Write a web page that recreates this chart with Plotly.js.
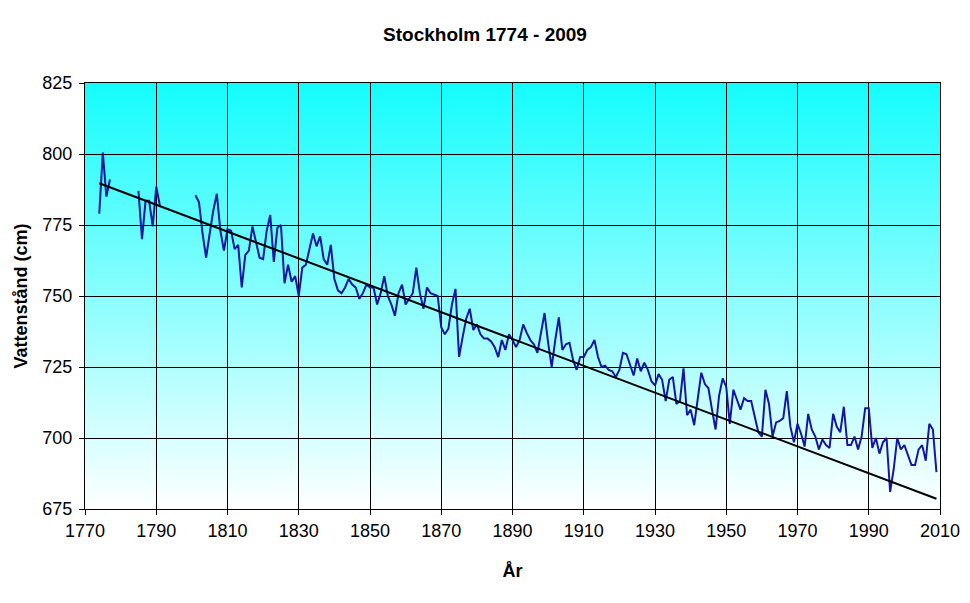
<!DOCTYPE html>
<html>
<head>
<meta charset="utf-8">
<script src="https://cdn.plot.ly/plotly-3.0.1.min.js"></script>
<style>
  html, body { margin: 0; padding: 0; background: #ffffff; }
  #chart { width: 970px; height: 603px; }
</style>
</head>
<body>
<div id="chart"></div>
<script>
// ---- Data ----
// Annual mean water level in Stockholm, cm; first value is year 1774, one value per year, null = no data
const firstYear = 1774;
const waterLevel = [
  /*1774-1779*/ 779, 800.5, 785, 791, null, null,
  /*1780-1789*/ null, null, null, null, null, 787, 770, 783.5, 783.5, 774.5,
  /*1790-1799*/ 788.5, 782, null, null, null, null, null, null, null, null,
  /*1800-1809*/ null, 785.5, 783, 772, 763.5, 772, 780, 786, 773, 766,
  /*1810-1819*/ 773.5, 773, 766.5, 768, 753, 764.5, 766, 774.5, 769, 763.5,
  /*1820-1829*/ 763, 773, 778.5, 762, 774, 775, 754.5, 761, 755, 757,
  /*1830-1839*/ 750, 760, 761, 766, 772, 767.5, 771, 763, 761, 768,
  /*1840-1849*/ 756, 752, 751, 753, 756, 754, 753, 749, 751, 754,
  /*1850-1859*/ 753, 753, 747, 751, 757, 750, 747, 743, 751, 754,
  /*1860-1869*/ 747, 749, 751, 760, 751, 745.5, 753, 751, 750.5, 750,
  /*1870-1879*/ 739, 736.5, 738.5, 747, 752.5, 728.5, 735.5, 742, 745.5, 738,
  /*1880-1889*/ 740, 736.5, 735, 735, 734, 732, 728.5, 734.5, 731, 736.5,
  /*1890-1899*/ 734.5, 732, 734.5, 740, 737, 734.5, 733, 730, 737, 744,
  /*1900-1909*/ 733.5, 725, 734.5, 742.5, 731, 733, 733.5, 727.5, 724, 728.5,
  /*1910-1919*/ 728.5, 731, 732, 734.5, 728.5, 725, 725.5, 724, 723.5, 721.5,
  /*1920-1929*/ 724, 730, 729.5, 725.5, 722, 728, 723.5, 726.5, 724, 720,
  /*1930-1939*/ 718.5, 722.5, 720.5, 713, 720.5, 721.5, 712, 713, 724.5, 708,
  /*1940-1949*/ 710, 704.5, 713.5, 723, 719, 717.5, 710, 703, 715, 721,
  /*1950-1959*/ 718, 705, 717, 713.5, 710, 714, 713, 713, 707, 702,
  /*1960-1969*/ 700.5, 717, 712, 700.5, 705.5, 706, 707, 716.5, 704, 698.5,
  /*1970-1979*/ 705, 701.5, 697, 708.5, 703, 700.5, 696, 699.5, 697.5, 696.5,
  /*1980-1989*/ 708.5, 704, 702, 711, 697.5, 697.5, 700.5, 696, 700.5, 710.5,
  /*1990-1999*/ 710.5, 696.5, 700, 694.5, 698.5, 700, 681, 689, 700, 696,
  /*2000-2009*/ 697.5, 694, 690.5, 690.5, 696, 697.5, 692, 705, 703, 688
];

// Linear trend line end points
const trendYears = [1774, 2009];
const trendLevels = [789.7, 678.6];

// Axis ticks
const xTicks = [1770, 1790, 1810, 1830, 1850, 1870, 1890, 1910, 1930, 1950, 1970, 1990, 2010];
const yTicks = [675, 700, 725, 750, 775, 800, 825];

const titleText = 'Stockholm 1774 - 2009';
const xTitleText = 'År';
const yTitleText = 'Vattenstånd (cm)';

// ---- Drawing ----
const FONT = '"Liberation Sans", Arial, Helvetica, sans-serif';

const gradSvg = '<svg xmlns="http://www.w3.org/2000/svg" width="100" height="100" preserveAspectRatio="none">' +
  '<defs><linearGradient id="g" x1="0" y1="0" x2="0" y2="1">' +
  '<stop offset="0" stop-color="#14FCFC"/><stop offset="1" stop-color="#FFFFFF"/>' +
  '</linearGradient></defs><rect width="100" height="100" fill="url(#g)"/></svg>';
const gradUri = 'data:image/svg+xml;charset=utf-8,' + encodeURIComponent(gradSvg);

const traces = [
  {
    type: 'scatter',
    mode: 'lines',
    x0: firstYear,
    dx: 1,
    y: waterLevel,
    connectgaps: false,
    line: { color: '#1616A0', width: 2 },
    hoverinfo: 'x+y',
    showlegend: false
  },
  {
    type: 'scatter',
    mode: 'lines',
    x: trendYears,
    y: trendLevels,
    line: { color: '#000000', width: 2 },
    hoverinfo: 'skip',
    showlegend: false
  }
];

const axisCommon = {
  showgrid: true,
  gridcolor: '#000000',
  gridwidth: 1,
  showline: true,
  mirror: true,
  linecolor: '#000000',
  linewidth: 1,
  ticks: 'outside',
  ticklen: 5,
  tickwidth: 1,
  tickcolor: '#000000',
  zeroline: false,
  tickfont: { family: FONT, size: 18, color: '#000000' },
  fixedrange: true
};

const layout = {
  width: 970,
  height: 603,
  autosize: false,
  paper_bgcolor: '#ffffff',
  plot_bgcolor: 'rgba(0,0,0,0)',
  margin: { l: 85, r: 30, t: 83, b: 94, pad: 0 },
  font: { family: FONT, color: '#000000' },
  title: {
    text: '<b>' + titleText + '</b>',
    font: { family: FONT, size: 19, color: '#000000' },
    x: 0.5, xanchor: 'center',
    y: 1 - 34 / 603, yanchor: 'middle'
  },
  xaxis: Object.assign({}, axisCommon, {
    range: [1770, 2010],
    tickmode: 'array',
    tickvals: xTicks,
    ticktext: xTicks.map(String),
    title: { text: '<b>' + xTitleText + '</b>', font: { family: FONT, size: 18, color: '#000000' }, standoff: 24 }
  }),
  yaxis: Object.assign({}, axisCommon, {
    range: [675, 825],
    tickmode: 'array',
    tickvals: yTicks,
    ticktext: yTicks.map(String),
    ticklabelstandoff: 3,
    title: { text: '<b>' + yTitleText + '</b>', font: { family: FONT, size: 18, color: '#000000' }, standoff: 10 }
  }),
  images: [{
    source: gradUri,
    xref: 'paper', yref: 'paper',
    x: 0, y: 1, sizex: 1, sizey: 1,
    xanchor: 'left', yanchor: 'top',
    sizing: 'stretch',
    layer: 'below'
  }],
  showlegend: false
};

Plotly.newPlot('chart', traces, layout, { displayModeBar: false, staticPlot: true });
</script>
</body>
</html>
